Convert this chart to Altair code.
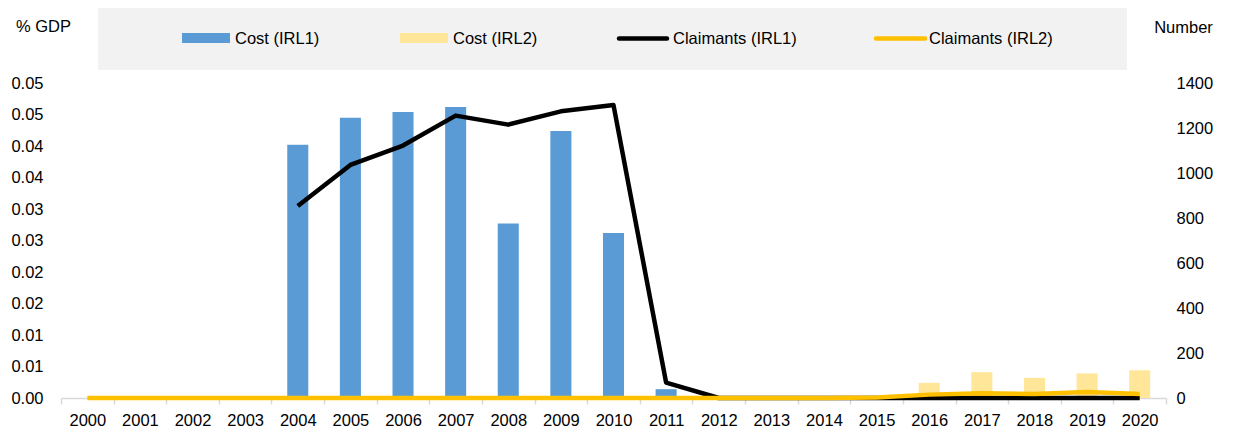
import altair as alt
import pandas as pd

FONT = "Liberation Sans, Arial, sans-serif"
FS = 16.5

years = [str(y) for y in range(2000, 2021)]
cost_irl1 = [None, None, None, None, 0.0402, 0.0445, 0.0454, 0.0462, 0.0277, 0.0424,
             0.0262, 0.0014, None, None, None, None, None, None, None, None, None]
cost_irl2 = [None, None, None, None, None, None, None, None, None, None,
             None, None, None, None, None, None, 0.0024, 0.0041, 0.0032, 0.0039, 0.0044]
claim_irl1 = [None, None, None, None, 853, 1036, 1122, 1255, 1215, 1274,
              1302, 68, 0, 0, 0, 0, 0, 0, 0, 0, 0]
claim_irl2 = [0, 0, 0, 0, 0, 0, 0, 0, 0, 0,
              0, 0, 0, 0, 0, 2, 15, 21, 18, 27, 18]

left_ticks = [0, 0.005, 0.01, 0.015, 0.02, 0.025, 0.03, 0.035, 0.04, 0.045, 0.05]
right_ticks = [0, 200, 400, 600, 800, 1000, 1200, 1400]

cost_series = ["Cost (IRL1)", "Cost (IRL2)"]
claim_series = ["Claimants (IRL1)", "Claimants (IRL2)"]
cost_colors = ["#5b9bd5", "#ffe699"]
claim_colors = ["#000000", "#ffc000"]

cost_df = pd.DataFrame({
    "year": years * 2,
    "series": [cost_series[0]] * len(years) + [cost_series[1]] * len(years),
    "value": cost_irl1 + cost_irl2,
})
claim_df = pd.DataFrame({
    "year": years * 2,
    "series": [claim_series[0]] * len(years) + [claim_series[1]] * len(years),
    "value": claim_irl1 + claim_irl2,
})

x_enc = alt.X(
    "year:N",
    sort=years,
    scale=alt.Scale(type="band", paddingInner=0, paddingOuter=0),
    axis=alt.Axis(
        title=None, labelAngle=0, labelFont=FONT, labelFontSize=FS, labelColor="#000000",
        domainColor="#d9d9d9", domainWidth=1.5, tickColor="#d9d9d9", tickWidth=1.5,
        tickSize=6, tickBand="extent", labelPadding=8, grid=False,
    ),
)

bars = alt.Chart(cost_df).mark_bar(width=alt.RelativeBandSize(0.4)).encode(
    x=x_enc,
    y=alt.Y(
        "value:Q", stack=None,
        scale=alt.Scale(domain=[0, 0.05], nice=False, zero=True),
        axis=alt.Axis(
            orient="left", values=left_ticks, labelExpr="format(datum.value + 1e-9, '.2f')",
            domain=False, ticks=False, grid=False, labelFont=FONT, labelFontSize=FS,
            labelColor="#000000", labelPadding=18,
            title="% GDP", titleAngle=0, titleAlign="center", titleBaseline="middle",
            titleX=-18, titleY=-57, titleFont=FONT, titleFontSize=FS,
            titleFontWeight="normal", titleColor="#000000",
        ),
    ),
    color=alt.Color("series:N", scale=alt.Scale(domain=cost_series, range=cost_colors), legend=None),
)

lines = alt.Chart(claim_df).mark_line(strokeWidth=4.5, strokeJoin="round").encode(
    x=x_enc,
    y=alt.Y(
        "value:Q",
        scale=alt.Scale(domain=[0, 1400], nice=False, zero=True),
        axis=alt.Axis(
            orient="right", values=right_ticks, format="d", domain=False, ticks=False, grid=False,
            labelFont=FONT, labelFontSize=FS, labelColor="#000000", labelPadding=10,
            labelAlign="left",
            title="Number", titleAngle=0, titleAlign="center", titleBaseline="middle",
            titleX=17, titleY=-56, titleFont=FONT, titleFontSize=FS,
            titleFontWeight="normal", titleColor="#000000",
        ),
    ),
    color=alt.Color("series:N", scale=alt.Scale(domain=claim_series, range=claim_colors), legend=None),
    detail="series:N",
)

one = pd.DataFrame({"k": [0]})
leg_bg = alt.Chart(one).mark_rect(color="#f2f2f2").encode(
    x=alt.value(37), x2=alt.value(1066), y=alt.value(-75), y2=alt.value(-13)
)
leg_items = []
swatch_x = [(121, 169), (339, 387)]
for (x0, x1), col in zip(swatch_x, cost_colors):
    leg_items.append(alt.Chart(one).mark_rect(color=col).encode(
        x=alt.value(x0), x2=alt.value(x1), y=alt.value(-50), y2=alt.value(-40)))
line_x = [(558, 606), (815, 864)]
for (x0, x1), col in zip(line_x, claim_colors):
    leg_items.append(alt.Chart(one).mark_rule(color=col, strokeWidth=4.5, strokeCap="round").encode(
        x=alt.value(x0), x2=alt.value(x1), y=alt.value(-44.5)))
text_x = [174, 392, 612, 868]
for tx, label in zip(text_x, cost_series + claim_series):
    leg_items.append(alt.Chart(one).mark_text(
        text=label, font=FONT, fontSize=FS, align="left", baseline="middle", color="#000000"
    ).encode(x=alt.value(tx), y=alt.value(-44)))

legend = alt.layer(leg_bg, *leg_items)

chart = alt.layer(bars, lines, legend).resolve_scale(y="independent", color="independent").properties(
    width=1105, height=315,
    autosize=alt.AutoSizeParams(type="none"),
    padding={"left": 53, "top": 75, "right": 62, "bottom": 30},
).configure_view(stroke=None)

chart.save("out.html", embed_options={"renderer": "svg", "actions": False})
